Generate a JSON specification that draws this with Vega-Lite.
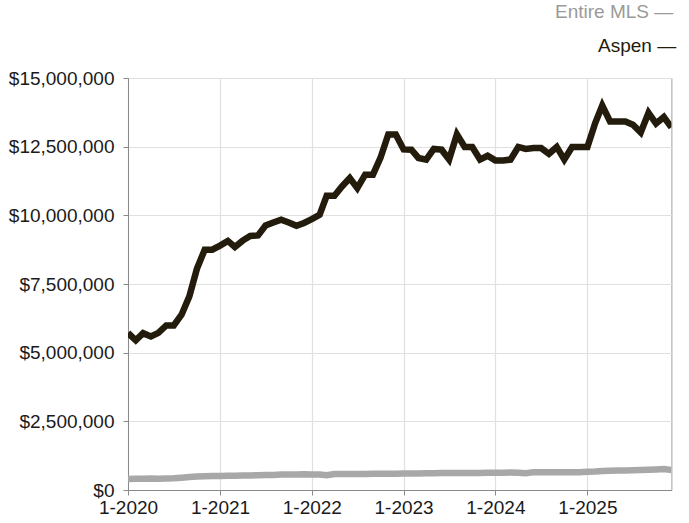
{
  "$schema": "https://vega.github.io/schema/vega-lite/v6.json",
  "autosize": {"type": "none"},
  "width": 543.4,
  "height": 412,
  "padding": {"left": 128, "top": 78, "right": 17.6, "bottom": 33},
  "background": "white",
  "config": {
    "font": "Liberation Sans",
    "view": {"stroke": "#a0a0a0", "strokeWidth": 1},
    "axis": {
      "labelFont": "Liberation Sans",
      "labelFontSize": 19,
      "labelColor": "#1a1a1a",
      "gridColor": "#e0e0e0",
      "gridWidth": 1.2,
      "domainColor": "#8a8a8a",
      "tickColor": "#8a8a8a",
      "tickSize": 5,
      "title": null
    },
    "legend": {
      "orient": "none",
      "symbolSize": 0,
      "symbolOpacity": 0,
      "symbolStrokeWidth": 0,
      "labelOffset": 0,
      "padding": 0,
      "labelFont": "Liberation Sans",
      "labelFontSize": 19,
      "labelLimit": 400,
      "title": null
    }
  },
  "data": {"values": [
    {"d": "2020-01-01", "a": 5720000, "m": 400000},
    {"d": "2020-02-01", "a": 5450000, "m": 410000},
    {"d": "2020-03-01", "a": 5710000, "m": 410000},
    {"d": "2020-04-01", "a": 5590000, "m": 420000},
    {"d": "2020-05-01", "a": 5720000, "m": 410000},
    {"d": "2020-06-01", "a": 5990000, "m": 420000},
    {"d": "2020-07-01", "a": 5990000, "m": 430000},
    {"d": "2020-08-01", "a": 6380000, "m": 450000},
    {"d": "2020-09-01", "a": 7050000, "m": 470000},
    {"d": "2020-10-01", "a": 8050000, "m": 490000},
    {"d": "2020-11-01", "a": 8750000, "m": 500000},
    {"d": "2020-12-01", "a": 8750000, "m": 510000},
    {"d": "2021-01-01", "a": 8900000, "m": 510000},
    {"d": "2021-02-01", "a": 9070000, "m": 520000},
    {"d": "2021-03-01", "a": 8850000, "m": 520000},
    {"d": "2021-04-01", "a": 9080000, "m": 530000},
    {"d": "2021-05-01", "a": 9250000, "m": 530000},
    {"d": "2021-06-01", "a": 9270000, "m": 540000},
    {"d": "2021-07-01", "a": 9630000, "m": 550000},
    {"d": "2021-08-01", "a": 9740000, "m": 550000},
    {"d": "2021-09-01", "a": 9840000, "m": 560000},
    {"d": "2021-10-01", "a": 9740000, "m": 560000},
    {"d": "2021-11-01", "a": 9620000, "m": 560000},
    {"d": "2021-12-01", "a": 9720000, "m": 570000},
    {"d": "2022-01-01", "a": 9860000, "m": 560000},
    {"d": "2022-02-01", "a": 10020000, "m": 560000},
    {"d": "2022-03-01", "a": 10710000, "m": 540000},
    {"d": "2022-04-01", "a": 10710000, "m": 580000},
    {"d": "2022-05-01", "a": 11050000, "m": 580000},
    {"d": "2022-06-01", "a": 11360000, "m": 580000},
    {"d": "2022-07-01", "a": 10990000, "m": 580000},
    {"d": "2022-08-01", "a": 11480000, "m": 580000},
    {"d": "2022-09-01", "a": 11480000, "m": 590000},
    {"d": "2022-10-01", "a": 12090000, "m": 590000},
    {"d": "2022-11-01", "a": 12940000, "m": 590000},
    {"d": "2022-12-01", "a": 12940000, "m": 590000},
    {"d": "2023-01-01", "a": 12400000, "m": 600000},
    {"d": "2023-02-01", "a": 12390000, "m": 600000},
    {"d": "2023-03-01", "a": 12090000, "m": 600000},
    {"d": "2023-04-01", "a": 12030000, "m": 610000},
    {"d": "2023-05-01", "a": 12420000, "m": 610000},
    {"d": "2023-06-01", "a": 12390000, "m": 620000},
    {"d": "2023-07-01", "a": 12030000, "m": 620000},
    {"d": "2023-08-01", "a": 12950000, "m": 620000},
    {"d": "2023-09-01", "a": 12490000, "m": 620000},
    {"d": "2023-10-01", "a": 12490000, "m": 620000},
    {"d": "2023-11-01", "a": 12030000, "m": 620000},
    {"d": "2023-12-01", "a": 12170000, "m": 630000},
    {"d": "2024-01-01", "a": 12000000, "m": 630000},
    {"d": "2024-02-01", "a": 12000000, "m": 630000},
    {"d": "2024-03-01", "a": 12030000, "m": 640000},
    {"d": "2024-04-01", "a": 12490000, "m": 630000},
    {"d": "2024-05-01", "a": 12420000, "m": 610000},
    {"d": "2024-06-01", "a": 12450000, "m": 650000},
    {"d": "2024-07-01", "a": 12450000, "m": 650000},
    {"d": "2024-08-01", "a": 12240000, "m": 650000},
    {"d": "2024-09-01", "a": 12490000, "m": 650000},
    {"d": "2024-10-01", "a": 12030000, "m": 650000},
    {"d": "2024-11-01", "a": 12490000, "m": 650000},
    {"d": "2024-12-01", "a": 12490000, "m": 650000},
    {"d": "2025-01-01", "a": 12490000, "m": 660000},
    {"d": "2025-02-01", "a": 13360000, "m": 670000},
    {"d": "2025-03-01", "a": 14000000, "m": 690000},
    {"d": "2025-04-01", "a": 13420000, "m": 700000},
    {"d": "2025-05-01", "a": 13420000, "m": 710000},
    {"d": "2025-06-01", "a": 13420000, "m": 710000},
    {"d": "2025-07-01", "a": 13300000, "m": 720000},
    {"d": "2025-08-01", "a": 13020000, "m": 730000},
    {"d": "2025-09-01", "a": 13730000, "m": 740000},
    {"d": "2025-10-01", "a": 13340000, "m": 750000},
    {"d": "2025-11-01", "a": 13580000, "m": 760000},
    {"d": "2025-12-01", "a": 13200000, "m": 730000}
  ]},
  "encoding": {
    "x": {
      "field": "d",
      "type": "temporal",
      "scale": {
        "type": "utc",
        "nice": false,
        "domain": [
          {"year": 2020, "month": 1, "date": 1, "utc": true},
          {"year": 2025, "month": 12, "date": 1, "utc": true}
        ]
      },
      "axis": {
        "values": [
          {"year": 2020, "month": 1, "date": 1, "utc": true},
          {"year": 2021, "month": 1, "date": 1, "utc": true},
          {"year": 2022, "month": 1, "date": 1, "utc": true},
          {"year": 2023, "month": 1, "date": 1, "utc": true},
          {"year": 2024, "month": 1, "date": 1, "utc": true},
          {"year": 2025, "month": 1, "date": 1, "utc": true}
        ],
        "labelExpr": "(utcmonth(datum.value) + 1) + '-' + utcyear(datum.value)",
        "labelPadding": 3,
        "labelFlush": false,
        "ticks": true
      }
    }
  },
  "layer": [
    {
      "mark": {"type": "line", "strokeWidth": 6.5, "clip": true},
      "encoding": {
        "y": {
          "field": "m",
          "type": "quantitative",
          "scale": {"domain": [0, 15000000], "nice": false},
          "axis": {
            "values": [0, 2500000, 5000000, 7500000, 10000000, 12500000, 15000000],
            "format": "$,.0f",
            "labelPadding": 9
          }
        },
        "color": {
          "datum": "Entire MLS",
          "type": "nominal",
          "scale": {"domain": ["Entire MLS"], "range": ["#a8a8a8"]},
          "legend": {"legendX": 408, "legendY": -76, "labelColor": "#9a9a9a", "labelExpr": "datum.label + '   \u2014'"}
        }
      }
    },
    {
      "mark": {"type": "line", "strokeWidth": 6.5, "clip": true},
      "encoding": {
        "y": {"field": "a", "type": "quantitative"},
        "color": {
          "datum": "Aspen",
          "type": "nominal",
          "scale": {"domain": ["Aspen"], "range": ["#231b0b"]},
          "legend": {"legendX": 451, "legendY": -42, "labelColor": "#231b0b", "labelExpr": "datum.label + '   \u2014'"}
        }
      }
    }
  ],
  "resolve": {"scale": {"color": "independent"}, "legend": {"color": "independent"}}
}
